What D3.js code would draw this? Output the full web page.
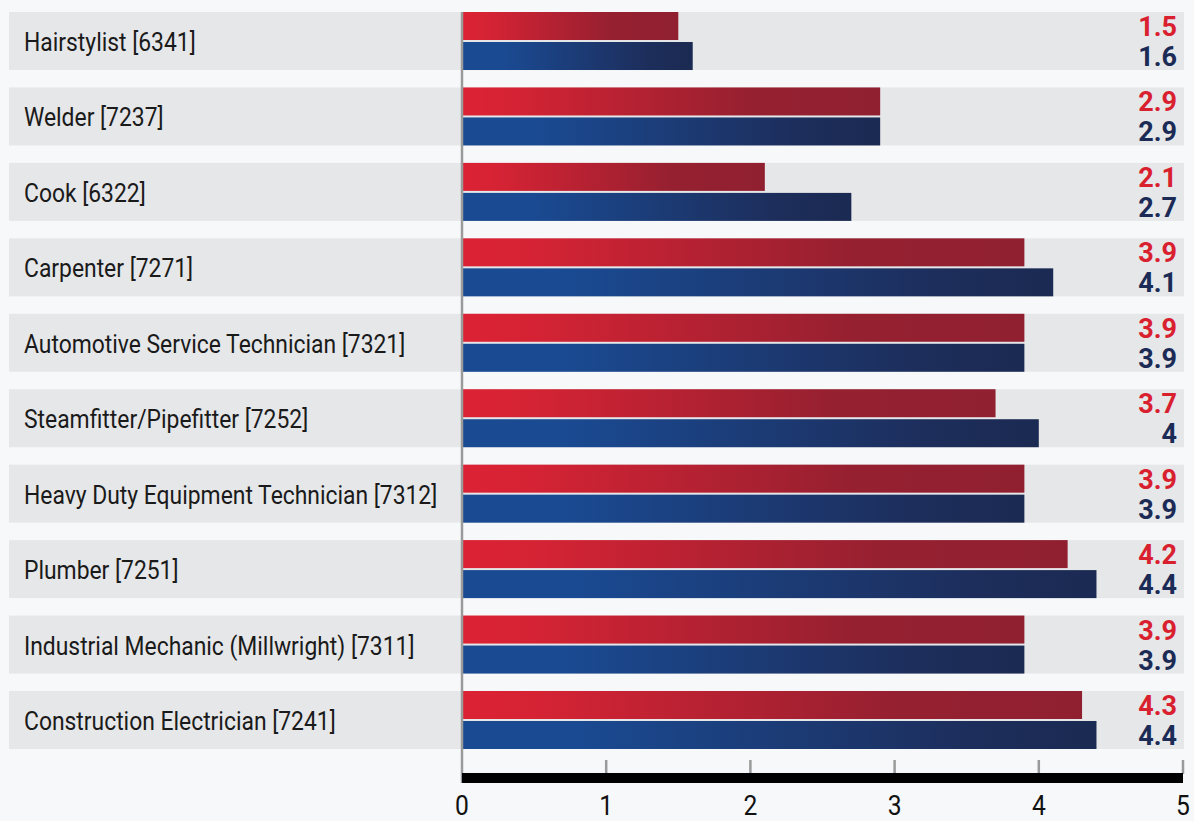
<!DOCTYPE html>
<html>
<head>
<meta charset="utf-8">
<script src="https://cdn.jsdelivr.net/npm/d3@7"></script>
<style>
  html, body { margin: 0; padding: 0; background: #f6f8fa; }
  svg { display: block; }
  .cat { font-family: "Roboto", sans-serif; fill: #1a1a1a; }
  .val { font-family: "Roboto", sans-serif; font-weight: bold; }
  .tick-label { font-family: "Roboto", sans-serif; fill: #111; }
</style>
</head>
<body>
<svg id="chart" width="1194" height="821"></svg>
<script>
// Occupations (top to bottom) and their two scores
const categories = [
  "Hairstylist [6341]",
  "Welder [7237]",
  "Cook [6322]",
  "Carpenter [7271]",
  "Automotive Service Technician [7321]",
  "Steamfitter/Pipefitter [7252]",
  "Heavy Duty Equipment Technician [7312]",
  "Plumber [7251]",
  "Industrial Mechanic (Millwright) [7311]",
  "Construction Electrician [7241]"
];
const redValues  = [1.5, 2.9, 2.1, 3.9, 3.9, 3.7, 3.9, 4.2, 3.9, 4.3];
const blueValues = [1.6, 2.9, 2.7, 4.1, 3.9, 4.0, 3.9, 4.4, 3.9, 4.4];
const tickValues = [0, 1, 2, 3, 4, 5];

const svg = d3.select("#chart");

const x = d3.scaleLinear().domain([0, 5]).range([462, 1183]);
const y = d3.scaleBand().domain(categories).range([12, 749]).paddingInner(0.231).paddingOuter(0);

const defs = svg.append("defs");
function grad(id, stops) {
  const g = defs.append("linearGradient").attr("id", id)
    .attr("x1", "0%").attr("x2", "100%").attr("y1", "0%").attr("y2", "0%");
  stops.forEach(([o, c]) => g.append("stop").attr("offset", o).attr("stop-color", c));
}
grad("gRed", [["0%", "#dc2235"], ["12%", "#d52334"], ["70%", "#952030"], ["100%", "#902030"]]);
grad("gBlue", [["0%", "#1a4a92"], ["18%", "#1a4a92"], ["80%", "#1d2e5c"], ["100%", "#1b2a52"]]);

// Row bands
svg.append("g").selectAll("rect").data(categories).join("rect")
  .attr("x", 9).attr("width", 1175)
  .attr("y", d => y(d)).attr("height", y.bandwidth())
  .attr("fill", "#e6e7e9");

// Category labels (narrowed horizontally for a condensed look)
svg.append("g").selectAll("text").data(categories).join("text")
  .attr("class", "cat")
  .attr("transform", d => `translate(24,${y(d) + y.bandwidth() / 2 + 10}) scale(0.88,1)`)
  .attr("font-size", 26)
  .text(d => d);

const gap = 2;
const barH = (y.bandwidth() - gap) / 2;

// Bars
const rows = categories.map((c, i) => ({ c, r: redValues[i], b: blueValues[i] }));
const bars = svg.append("g");
bars.selectAll("rect.r").data(rows).join("rect").attr("class", "r")
  .attr("x", x(0)).attr("y", d => y(d.c))
  .attr("width", d => x(d.r) - x(0)).attr("height", barH)
  .attr("fill", "url(#gRed)");
bars.selectAll("rect.b").data(rows).join("rect").attr("class", "b")
  .attr("x", x(0)).attr("y", d => y(d.c) + barH + gap)
  .attr("width", d => x(d.b) - x(0)).attr("height", barH)
  .attr("fill", "url(#gBlue)");

// Value labels
const fmt = v => String(v);
const vals = svg.append("g");
vals.selectAll("text.r").data(rows).join("text").attr("class", "val r")
  .attr("x", 1177).attr("y", d => y(d.c) + 24)
  .attr("text-anchor", "end").attr("font-size", 27).attr("fill", "#d9202f")
  .text(d => fmt(d.r));
vals.selectAll("text.b").data(rows).join("text").attr("class", "val b")
  .attr("x", 1177).attr("y", d => y(d.c) + 54)
  .attr("text-anchor", "end").attr("font-size", 27).attr("fill", "#1b2b55")
  .text(d => fmt(d.b));

// Vertical baseline
svg.append("line")
  .attr("x1", x(0)).attr("x2", x(0)).attr("y1", 12).attr("y2", 783)
  .attr("stroke", "#9a9a9a").attr("stroke-width", 2.5);

// Bottom axis
const axisG = svg.append("g");
axisG.selectAll("line.tick").data(tickValues.filter(v => v > 0)).join("line").attr("class", "tick")
  .attr("x1", d => x(d)).attr("x2", d => x(d)).attr("y1", 760).attr("y2", 774)
  .attr("stroke", "#9a9a9a").attr("stroke-width", 2.5);
axisG.append("rect")
  .attr("x", x(0)).attr("y", 773).attr("width", x(5) - x(0)).attr("height", 10)
  .attr("fill", "#000");
axisG.selectAll("text").data(tickValues).join("text").attr("class", "tick-label")
  .attr("transform", d => `translate(${x(d)},815) scale(0.88,1)`)
  .attr("text-anchor", "middle").attr("font-size", 28)
  .text(d => d);
</script>
</body>
</html>
